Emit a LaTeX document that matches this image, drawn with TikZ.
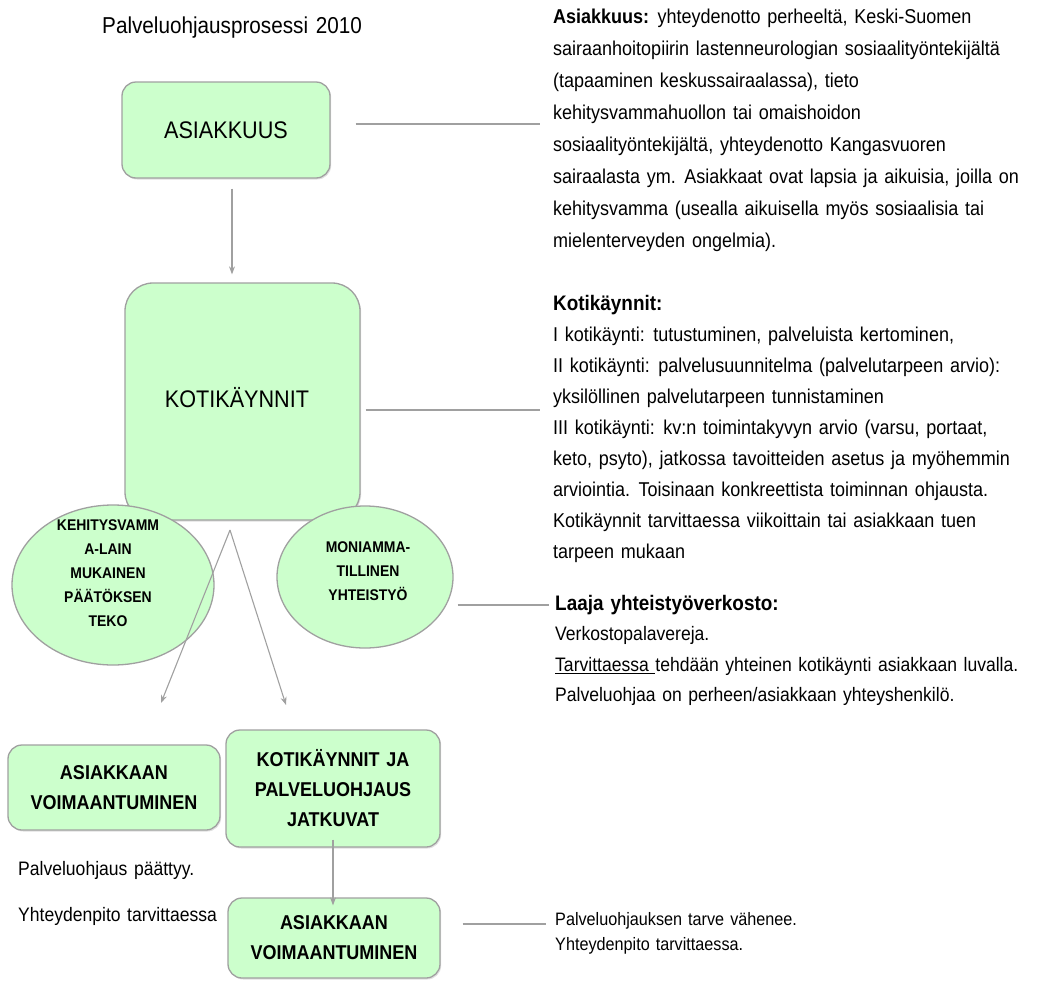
\documentclass[tikz,border=0pt]{standalone}
\usepackage{fontspec}
\setmainfont{Liberation Sans}
\newfontfamily\nar[FakeStretch=0.9,WordSpace=1.35]{Liberation Sans}
\usetikzlibrary{arrows.meta,shapes.geometric,shadows}
\newcommand\myfs[2]{\fontsize{#1}{#2}\selectfont}
\definecolor{boxfill}{HTML}{CCFFCC}
\definecolor{boxline}{HTML}{A0A0A0}
\definecolor{linkgray}{HTML}{A0A0A0}
\begin{document}
\begin{tikzpicture}[x=1pt,y=-1pt,
  box/.style={draw=boxline, fill=boxfill, line width=1.3pt, rounded corners=14pt,
    align=center, inner sep=2pt,
    drop shadow={opacity=0.25, shadow xshift=1.2pt, shadow yshift=-1.5pt}},
  oval/.style={ellipse, draw=boxline, fill=boxfill, line width=1.3pt, inner sep=0pt},
  ovaltext/.style={align=center, inner sep=0pt, font=\nar\bfseries\myfs{15.5}{24}},
  arr/.style={draw=linkgray, line width=1.1pt, -{Stealth[length=8pt,width=6pt]}},
  link/.style={draw=linkgray, line width=1.3pt},
  note/.style={anchor=north west, align=left, inner sep=0pt, font=\nar\myfs{20}{32}},
  boxtext/.style={font=\nar\bfseries\myfs{20}{30}}]
\useasboundingbox (0,0) rectangle (1037,983);

% title
\node[anchor=west, inner sep=0pt, font=\nar\myfs{23}{28}] (title) at (102,28) {Palveluohjausprosessi 2010};

% main process boxes
\node[box, minimum width=208pt, minimum height=96pt, font=\nar\myfs{24}{30}] (asiak) at (226,130) {ASIAKKUUS};
\node[box, rounded corners=28pt, minimum width=235pt, minimum height=237pt] (koti) at (242.5,401.5) {};
\node[font=\nar\myfs{24}{30}] (kotitext) at (237,398) {KOTIKÄYNNIT};

% the two supporting ovals
\node[oval, minimum width=202pt, minimum height=160pt] (lain) at (113,585) {};
\node[ovaltext] (laintext) at (108,573) {KEHITYSVAMM\\A-LAIN\\MUKAINEN\\PÄÄTÖKSEN\\TEKO};
\node[oval, minimum width=176pt, minimum height=142pt] (moni) at (365,577) {};
\node[ovaltext] (monitext) at (368,571) {MONIAMMA-\\TILLINEN\\YHTEISTYÖ};

% outcome boxes
\node[box, boxtext, minimum width=212pt, minimum height=85pt] (voim1) at (114,787.5)
  {ASIAKKAAN\\VOIMAANTUMINEN};
\node[box, boxtext, minimum width=214pt, minimum height=117pt] (jatk) at (333,788.5)
  {KOTIKÄYNNIT JA\\PALVELUOHJAUS\\JATKUVAT};
\node[box, boxtext, minimum width=212pt, minimum height=80pt] (voim2) at (334,938)
  {ASIAKKAAN\\VOIMAANTUMINEN};

% arrows
\draw[arr] ([xshift=6pt]asiak.south) ++(0,10) -- ([xshift=6pt,yshift=8pt]asiak.south |- koti.north);
\coordinate (apex) at (230,530);
\coordinate (tipL) at (161,703);
\coordinate (tipR) at (286,705);
\draw[arr] (apex) -- (tipL);
\draw[arr] (apex) -- (tipR);
\draw[arr] ([yshift=8pt]jatk.south) -- ([yshift=-8pt]jatk.south |- voim2.north);

% description blocks
\node[note] (txtA) at (553,9) {%
  \textbf{Asiakkuus:} yhteydenotto perheeltä, Keski-Suomen\\
  sairaanhoitopiirin lastenneurologian sosiaalityöntekijältä\\
  (tapaaminen keskussairaalassa), tieto\\
  kehitysvammahuollon tai omaishoidon\\
  sosiaalityöntekijältä, yhteydenotto Kangasvuoren\\
  sairaalasta ym. Asiakkaat ovat lapsia ja aikuisia, joilla on\\
  kehitysvamma (usealla aikuisella myös sosiaalisia tai\\
  mielenterveyden ongelmia).};

\node[note, font=\nar\myfs{20}{31}] (txtK) at (553,295) {%
  {\bfseries\myfs{21}{31}Kotikäynnit:}\\
  I kotikäynti: tutustuminen, palveluista kertominen,\\
  II kotikäynti: palvelusuunnitelma (palvelutarpeen arvio):\\
  yksilöllinen palvelutarpeen tunnistaminen\\
  III kotikäynti: kv:n toimintakyvyn arvio (varsu, portaat,\\
  keto, psyto), jatkossa tavoitteiden asetus ja myöhemmin\\
  arviointia. Toisinaan konkreettista toiminnan ohjausta.\\
  Kotikäynnit tarvittaessa viikoittain tai asiakkaan tuen\\
  tarpeen mukaan};

\node[note, font=\nar\myfs{19.5}{30.5}] (txtV) at (555,595) {%
  {\bfseries\myfs{21}{30.5}Laaja yhteistyöverkosto:}\\
  Verkostopalavereja.\\
  \underline{Tarvittaessa\ }tehdään yhteinen kotikäynti asiakkaan luvalla.\\
  Palveluohjaa on perheen/asiakkaan yhteyshenkilö.};

\node[note, font=\nar\myfs{18}{25}] (txtP) at (555,912) {%
  Palveluohjauksen tarve vähenee.\\
  Yhteydenpito tarvittaessa.};

\node[note, font=\nar\myfs{19.5}{30}] (loppu) at (18,861) {Palveluohjaus päättyy.};
\node[note, font=\nar\myfs{19.5}{30}] (yht) at (18,907) {Yhteydenpito tarvittaessa};

% connector lines to the descriptions
\coordinate (cA) at (540,124);
\coordinate (cK) at (540,410);
\coordinate (cM) at (549,605);
\coordinate (cP) at (546,924);
\draw[link] ([xshift=25pt]asiak.east |- cA) -- (cA);
\draw[link] ([xshift=5pt]koti.east |- cK) -- (cK);
\draw[link] ([xshift=4pt]moni.east |- cM) -- (cM);
\draw[link] ([xshift=22pt]voim2.east |- cP) -- (cP);
\end{tikzpicture}
\end{document}
